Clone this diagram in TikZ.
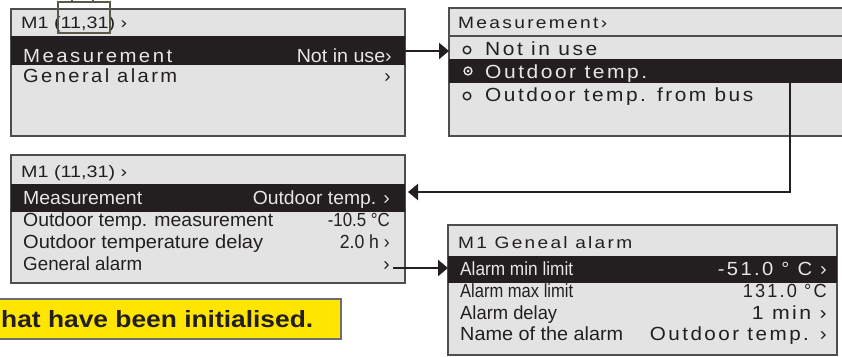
\documentclass[tikz,border=0pt]{standalone}
\usepackage{fontspec}
\usepackage{graphicx}
\setmainfont{Liberation Sans}
\usetikzlibrary{arrows.meta}
\definecolor{panelfill}{HTML}{E3E3E3}
\definecolor{bordercol}{HTML}{4E4E4E}
\definecolor{bandcol}{HTML}{231F20}
\definecolor{txtdark}{HTML}{231F20}
\definecolor{txtlight}{HTML}{E6E6E6}
\definecolor{callcol}{HTML}{5A5A4C}
\definecolor{yel}{HTML}{FFE600}
\definecolor{yelborder}{HTML}{6E6E6E}
\newcommand{\fw}[2]{\resizebox{#1pt}{\height}{#2}}
\newcommand{\lsp}[1]{{\addfontfeature{LetterSpace=12}#1}}
\tikzset{
  panel/.style={draw=bordercol, fill=panelfill, line width=1.3pt, inner sep=0pt, outer sep=0pt, anchor=north west},
  band/.style={fill=bandcol, inner sep=0pt, outer sep=0pt, anchor=north west},
  tl/.style={inner sep=0pt, anchor=base west, text=txtdark, font=\fontsize{19}{19}\selectfont},
  tr/.style={tl, anchor=base east},
  hd/.style={tl, font=\fontsize{16.5}{16.5}\selectfont},
  lit/.style={text=txtlight},
  conn/.style={draw=bandcol, line width=2.2pt, -{Triangle[length=10pt,width=16pt]}},
}
\begin{document}
\begin{tikzpicture}[x=1pt,y=-1pt]
\useasboundingbox (0,0) rectangle (842,356);
\clip (0,0) rectangle (842,356);

% ---------- panel 1 ----------
\node[panel, minimum width=394pt, minimum height=127pt] (p1) at (11,9) {};
\node[band, minimum width=394pt, minimum height=29pt] (b1) at (11,36) {};
\node[hd] (p1h) at (21,28) {\fw{106}{M1 (11,31) ›}};
\node[tl, lit] (p1a) at (23,62) {\fw{149}{\lsp{Measurement}}};
\node[tr, lit] (p1b) at (392,62) {\fw{95}{Not in use›}};
\node[tl] (p1c) at (23,82) {\fw{154}{\lsp{General alarm}}};
\node[tr] (p1d) at (391,82) {›};

% callout box around 11,31
\draw[callcol, line width=1.5pt] (58,2) rectangle (110,33);
\draw[callcol, line width=1.5pt] (72,2) -- (72,-5);
\draw[callcol, line width=1.5pt] (93,2) -- (93,-5);

% ---------- panel 2 ----------
\node[panel, minimum width=400pt, minimum height=128pt] (p2) at (449,8) {};
\draw[bordercol, line width=1.2pt] (449,36) -- (848,36);
\node[band, minimum width=400pt, minimum height=24pt] (b2) at (449,59) {};
\node[hd] (p2h) at (458,28) {\fw{149}{\lsp{Measurement›}}};
\draw[txtdark, line width=1.4pt] (467,50) circle (3.8);
\node[tl] (p2a) at (485,55) {\fw{112}{\lsp{Not in use}}};
\draw[txtlight, line width=1.4pt] (468,71) circle (3.9);
\fill[txtlight] (468,71) circle (1.5);
\node[tl, lit] (p2b) at (485,78) {\fw{162}{\lsp{Outdoor temp.}}};
\draw[txtdark, line width=1.4pt] (467,96) circle (3.8);
\node[tl] (p2c) at (485,101) {\fw{268}{\lsp{Outdoor temp. from bus}}};

% ---------- panel 3 ----------
\node[panel, minimum width=394pt, minimum height=128pt] (p3) at (11,155) {};
\node[band, minimum width=394pt, minimum height=28pt] (b3) at (11,184) {};
\node[hd] (p3h) at (21,177) {\fw{106}{M1 (11,31) ›}};
\node[tl, lit] (p3a) at (23,204) {\fw{119}{Measurement}};
\node[tr, lit] (p3b) at (390,204) {\fw{137}{Outdoor temp. ›}};
\node[tl] (p3c) at (23,226) {\fw{250}{Outdoor temp. measurement}};
\node[tr] (p3d) at (390,226) {\fw{62}{-10.5 °C}};
\node[tl] (p3e) at (23,248) {\fw{240}{Outdoor temperature delay}};
\node[tr] (p3f) at (390,248) {\fw{50}{2.0 h ›}};
\node[tl] (p3g) at (23,270) {\fw{119}{General alarm}};
\node[tr] (p3k) at (390,270) {›};

% ---------- panel 4 ----------
\node[panel, minimum width=389pt, minimum height=130pt] (p4) at (448,225) {};
\node[band, minimum width=389pt, minimum height=27pt] (b4) at (448,256) {};
\node[hd] (p4h) at (458,248) {\fw{174}{\lsp{M1 Geneal alarm}}};
\node[tl, lit] (p4a) at (460,275) {\fw{113}{Alarm min limit}};
\node[tr, lit] (p4b) at (827,275) {\fw{109}{\lsp{-51.0 ° C ›}}};
\node[tl] (p4c) at (460,297) {\fw{113}{Alarm max limit}};
\node[tr] (p4d) at (827,297) {\fw{84}{\lsp{131.0 °C}}};
\node[tl] (p4e) at (460,319) {\fw{97}{Alarm delay}};
\node[tr] (p4f) at (827,319) {\fw{75}{\lsp{1 min ›}}};
\node[tl] (p4g) at (460,340) {\fw{163}{Name of the alarm}};
\node[tr] (p4k) at (827,340) {\fw{177}{\lsp{Outdoor temp. ›}}};

% ---------- yellow note ----------
\node[draw=yelborder, fill=yel, line width=2pt, inner sep=0pt, minimum width=352pt, minimum height=40pt, anchor=north east] (note) at (342,298) {};
\node[inner sep=0pt, anchor=base west, text=txtdark, font=\bfseries\fontsize{23.5}{23.5}\selectfont] (notet) at (1,327) {\fw{312}{hat have been initialised.}};

% ---------- connectors ----------
\coordinate (c1s) at (405,51);
\draw[conn] (c1s) -- (p2.west |- c1s);
\coordinate (c2s) at (790,83);
\coordinate (c2m) at (790,192);
\draw[conn] (c2s) -- (c2m) -- ([xshift=3pt]p3.east |- c2m);
\coordinate (c3s) at (393,268);
\draw[conn] (c3s) -- (p4.west |- c3s);
\end{tikzpicture}
\end{document}
